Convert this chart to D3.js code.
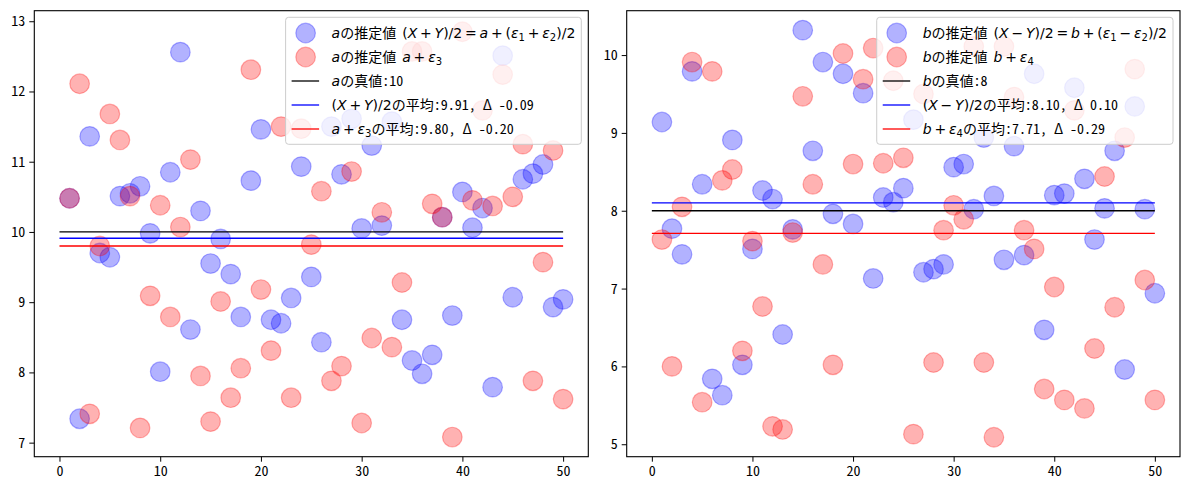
<!DOCTYPE html>
<html>
<head>
<meta charset="utf-8">
<script src="https://cdn.jsdelivr.net/npm/d3@7"></script>
<style>
body { margin: 0; background: #fff; }
text { font-family: "Noto Sans Mono CJK JP", "Noto Sans CJK JP", sans-serif; }
</style>
</head>
<body>
<div id="mainContainer"></div>
<script>
// trial number on x
var idx = [1,2,3,4,5,6,7,8,9,10,11,12,13,14,15,16,17,18,19,20,21,22,23,24,25,
           26,27,28,29,30,31,32,33,34,35,36,37,38,39,40,41,42,43,44,45,46,47,48,49,50];

// left panel: estimates of a
var aBlue = [10.48,7.34,11.36,9.70,9.64,10.51,10.55,10.65,9.98,8.01,
             10.85,12.56,8.61,10.30,9.55,9.90,9.40,8.79,10.73,11.46,
             8.75,8.70,9.06,10.93,9.36,8.43,11.50,10.82,11.61,10.05,
             11.23,10.09,11.57,8.75,8.17,7.98,8.25,10.21,8.81,10.57,
             10.06,10.34,7.79,12.51,9.07,10.75,10.83,10.96,8.93,9.04];
var aRed = [10.48,12.11,7.41,9.80,11.68,11.31,10.51,7.21,9.09,10.38,
            8.79,10.07,11.03,7.95,7.30,9.01,7.64,8.06,12.31,9.18,
            8.31,11.50,7.64,11.47,9.82,10.58,7.88,8.09,10.86,7.28,
            8.49,10.28,8.36,9.28,12.57,12.57,10.40,10.21,7.08,12.85,
            10.45,11.73,10.37,12.24,10.50,11.25,7.88,9.57,11.16,7.62];

// right panel: estimates of b
var bBlue = [9.14,7.77,7.44,9.79,8.34,5.84,5.63,8.91,6.02,7.51,
             8.26,8.15,6.41,7.76,10.32,8.77,9.91,7.96,9.76,7.83,
             9.51,7.13,8.17,8.11,8.29,9.17,7.21,7.25,7.31,8.56,
             8.60,8.02,8.94,8.19,7.37,8.83,7.43,9.76,6.47,8.20,
             8.22,9.58,8.41,7.63,8.03,8.77,5.96,9.34,8.02,6.94];
var bRed = [7.63,6.00,8.05,9.91,5.54,9.79,8.39,8.53,6.20,7.61,
            6.77,5.23,5.19,7.72,9.47,8.34,7.31,6.02,10.02,8.60,
            9.69,10.09,8.61,9.67,8.68,5.13,9.50,6.05,7.75,8.07,
            7.89,10.11,6.05,5.09,10.11,9.46,7.75,7.51,5.71,7.02,
            5.57,9.29,5.46,6.23,8.44,6.76,8.94,9.82,7.11,5.57];

// horizontal lines: true value, mean of blue, mean of red
var aLines = [10, 9.91, 9.80];
var bLines = [8, 8.10, 7.71];
var lineColors = ["black", "blue", "red"];

var ticksX = [0, 10, 20, 30, 40, 50];
var aTicksY = [7, 8, 9, 10, 11, 12, 13];
var bTicksY = [5, 6, 7, 8, 9, 10];

// legend labels, pieces: "" = plain, m = math upright, i = math italic, s = subscript
// (thin spaces round the operators, like mathtext)
var aLegend = [
  [["a","i"],["の推定値",""],["(","m",6],["X","i"],["\u2009+\u2009","m"],["Y","i"],[")/2\u2009=\u2009","m"],["a","i"],["\u2009+\u2009(","m"],["ε","i"],["1","s"],["\u2009+\u2009","m"],["ε","i"],["2","s"],[")/2","m"]],
  [["a","i"],["の推定値",""],["a","i",6],["\u2009+\u2009","m"],["ε","i"],["3","s"]],
  [["a","i"],["の真値:10",""]],
  [["(","m"],["X","i"],["\u2009+\u2009","m"],["Y","i"],[")/2","m"],["の平均:9.91, Δ -0.09",""]],
  [["a","i"],["\u2009+\u2009","m"],["ε","i"],["3","s"],["の平均:9.80, Δ -0.20",""]]
];
var bLegend = [
  [["b","i"],["の推定値",""],["(","m",6],["X","i"],["\u2009−\u2009","m"],["Y","i"],[")/2\u2009=\u2009","m"],["b","i"],["\u2009+\u2009(","m"],["ε","i"],["1","s"],["\u2009−\u2009","m"],["ε","i"],["2","s"],[")/2","m"]],
  [["b","i"],["の推定値",""],["b","i",6],["\u2009+\u2009","m"],["ε","i"],["4","s"]],
  [["b","i"],["の真値:8",""]],
  [["(","m"],["X","i"],["\u2009−\u2009","m"],["Y","i"],[")/2","m"],["の平均:8.10, Δ 0.10",""]],
  [["b","i"],["\u2009+\u2009","m"],["ε","i"],["4","s"],["の平均:7.71, Δ -0.29",""]]
];

var W = 1189, H = 490;
var svg = d3.select('#mainContainer').append('svg')
    .attr('width', W)
    .attr('height', H);

var R = 9.8;
var tickFont = '"Noto Sans Mono CJK JP", "Noto Sans CJK JP", sans-serif';

function drawPanel(p) {
    var x = d3.scaleLinear().domain([-2.5, 52.5]).range([p.left, p.right]);
    var y = d3.scaleLinear().domain(p.yDomain).range([p.bottom, p.top]);
    var g = svg.append('g');

    var xa = g.append('g')
        .attr('transform', 'translate(0,' + p.bottom + ')')
        .call(d3.axisBottom(x).tickValues(ticksX).tickSize(5).tickPadding(4).tickFormat(d3.format('d')));
    var ya = g.append('g')
        .attr('transform', 'translate(' + p.left + ',0)')
        .call(d3.axisLeft(y).tickValues(p.yTicks).tickSize(5).tickPadding(4).tickFormat(d3.format('d')));
    [xa, ya].forEach(function(a) {
        a.select('.domain').remove();
        a.selectAll('text').attr('font-size', '14px').attr('fill', 'black')
            .attr('font-family', tickFont);
        a.selectAll('line').attr('stroke', 'black').attr('stroke-width', 1);
    });

    g.selectAll('circle.blue')
        .data(p.blue)
        .enter().append('circle')
        .attr('class', 'blue')
        .attr('cx', function(d, i) { return x(idx[i]); })
        .attr('cy', function(d) { return y(d); })
        .attr('r', R)
        .attr('fill', 'blue').attr('fill-opacity', 0.3)
        .attr('stroke', 'blue').attr('stroke-opacity', 0.3).attr('stroke-width', 1.2);

    g.selectAll('circle.red')
        .data(p.red)
        .enter().append('circle')
        .attr('class', 'red')
        .attr('cx', function(d, i) { return x(idx[i]); })
        .attr('cy', function(d) { return y(d); })
        .attr('r', R)
        .attr('fill', 'red').attr('fill-opacity', 0.3)
        .attr('stroke', 'red').attr('stroke-opacity', 0.3).attr('stroke-width', 1.2);

    g.selectAll('line.h')
        .data(p.lines)
        .enter().append('line')
        .attr('class', 'h')
        .attr('x1', x(0)).attr('x2', x(50))
        .attr('y1', function(d) { return y(d); })
        .attr('y2', function(d) { return y(d); })
        .attr('stroke', function(d, i) { return lineColors[i]; })
        .attr('stroke-width', 1.3);

    // frame
    g.append('rect')
        .attr('x', p.left).attr('y', p.top)
        .attr('width', p.right - p.left).attr('height', p.bottom - p.top)
        .attr('fill', 'none').attr('stroke', 'black').attr('stroke-width', 1.1);

    // legend
    var lg = g.append('g');
    var box = lg.append('rect');
    var texts = [];
    p.legend.forEach(function(parts, i) {
        var t = lg.append('text')
            .attr('y', 33 + i * 24 + 5)
            .attr('font-size', '14px')
            .attr('fill', 'black');
        var shift = 0;
        parts.forEach(function(pc) {
            var ts = t.append('tspan').text(pc[0]);
            var want = 0;
            if (pc[1] === 'm' || pc[1] === 'i' || pc[1] === 's') {
                ts.attr('font-family', '"DejaVu Sans", sans-serif');
            }
            if (pc[1] === 'i') ts.attr('font-style', 'italic');
            if (pc[1] === 's') { ts.attr('font-size', '10px'); want = 3; }
            if (pc[2]) ts.attr('dx', pc[2]);
            if (want !== shift) { ts.attr('dy', want - shift); shift = want; }
        });
        texts.push(t);
    });
    var maxW = d3.max(texts, function(t) { return t.node().getBBox().width; });
    var bw = 46 + maxW + 6;
    var bx = p.right - 7 - bw;
    box.attr('x', bx).attr('y', p.top + 6.6)
        .attr('width', bw).attr('height', 127)
        .attr('rx', 3)
        .attr('fill', 'white').attr('fill-opacity', 0.8)
        .attr('stroke', '#cccccc').attr('stroke-width', 1);
    texts.forEach(function(t) { t.attr('x', bx + 46); });

    lg.append('circle').attr('cx', bx + 20).attr('cy', 33).attr('r', R)
        .attr('fill', 'blue').attr('fill-opacity', 0.3)
        .attr('stroke', 'blue').attr('stroke-opacity', 0.3).attr('stroke-width', 1.2);
    lg.append('circle').attr('cx', bx + 20).attr('cy', 57).attr('r', R)
        .attr('fill', 'red').attr('fill-opacity', 0.3)
        .attr('stroke', 'red').attr('stroke-opacity', 0.3).attr('stroke-width', 1.2);
    lineColors.forEach(function(c, i) {
        lg.append('line')
            .attr('x1', bx + 6).attr('x2', bx + 33.5)
            .attr('y1', 81 + i * 24).attr('y2', 81 + i * 24)
            .attr('stroke', c).attr('stroke-width', 1.3);
    });
}

drawPanel({ left: 34.3, right: 588.3, top: 10.7, bottom: 456.7,
            yDomain: [6.80, 13.15], yTicks: aTicksY,
            blue: aBlue, red: aRed, lines: aLines, legend: aLegend });
drawPanel({ left: 626.7, right: 1180, top: 10.7, bottom: 456.7,
            yDomain: [4.84, 10.57], yTicks: bTicksY,
            blue: bBlue, red: bRed, lines: bLines, legend: bLegend });
</script>
</body>
</html>
